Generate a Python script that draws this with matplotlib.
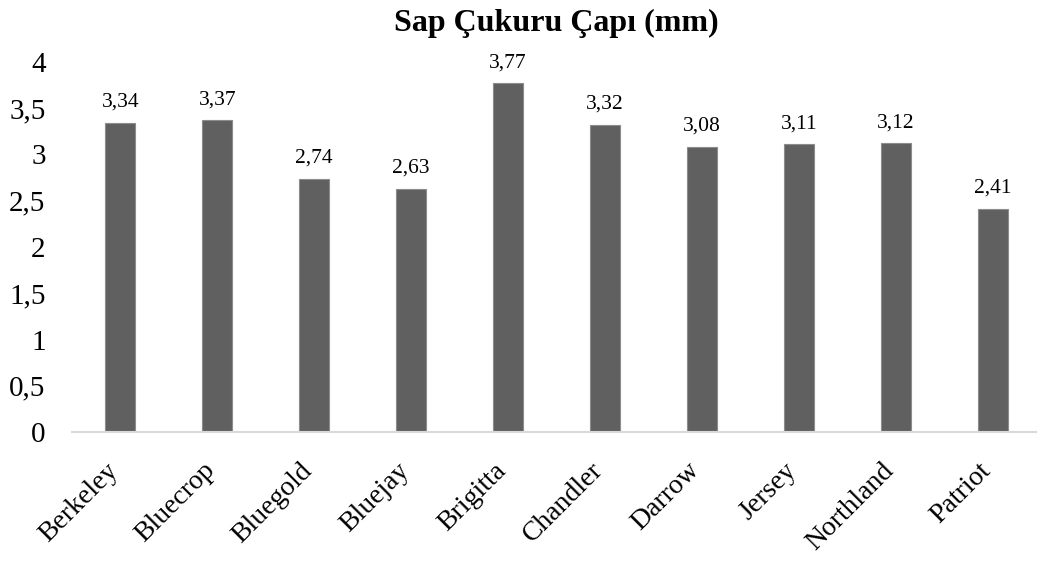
import matplotlib.pyplot as plt
from matplotlib.transforms import ScaledTranslation

plt.rcParams['font.family'] = ['Liberation Serif', 'DejaVu Serif']

varieties = ["Berkeley", "Bluecrop", "Bluegold", "Bluejay", "Brigitta",
             "Chandler", "Darrow", "Jersey", "Northland", "Patriot"]
diameter = [3.34, 3.37, 2.74, 2.63, 3.77, 3.32, 3.08, 3.11, 3.12, 2.41]
yticks = [0, 0.5, 1, 1.5, 2, 2.5, 3, 3.5, 4]

fig = plt.figure(figsize=(10.37, 5.63), dpi=100)
ax = fig.add_axes([72 / 1037, 131 / 563, 969 / 1037, 370 / 563])

x = range(len(varieties))
bars = ax.bar(x, diameter, width=0.31, color="#606060", edgecolor="#8c8c8c", linewidth=0.8, zorder=2)

for xi, v in zip(x, diameter):
    ax.annotate(f"{v:.2f}".replace(".", ","), (xi, v), xytext=(0, 8),
                textcoords="offset points", ha="center", va="bottom", fontsize=15.5)

ax.set_xlim(-0.5, 9.5)
ax.set_ylim(0, 4)
ax.set_yticks(yticks)
ax.set_yticklabels([f"{t:g}".replace(".", ",") for t in yticks], fontsize=21)
ax.set_xticks(list(x))
ax.set_xticklabels(varieties, fontsize=20, rotation=45, ha="right", va="center", rotation_mode="anchor")
ax.tick_params(axis="y", length=0, pad=19)
ax.tick_params(axis="x", length=0, pad=25)

# nudge rotated category labels a little to the left
shift = ScaledTranslation(-6 / 100, 0, fig.dpi_scale_trans)
for lbl in ax.get_xticklabels():
    lbl.set_transform(lbl.get_transform() + shift)

for side in ["left", "right", "top"]:
    ax.spines[side].set_visible(False)
ax.spines["bottom"].set_color("#d9d9d9")
ax.spines["bottom"].set_linewidth(1.5)

ax.set_title("Sap Çukuru Çapı (mm)", fontsize=23, fontweight="bold", pad=22)

fig.savefig("out.png", dpi=100)
